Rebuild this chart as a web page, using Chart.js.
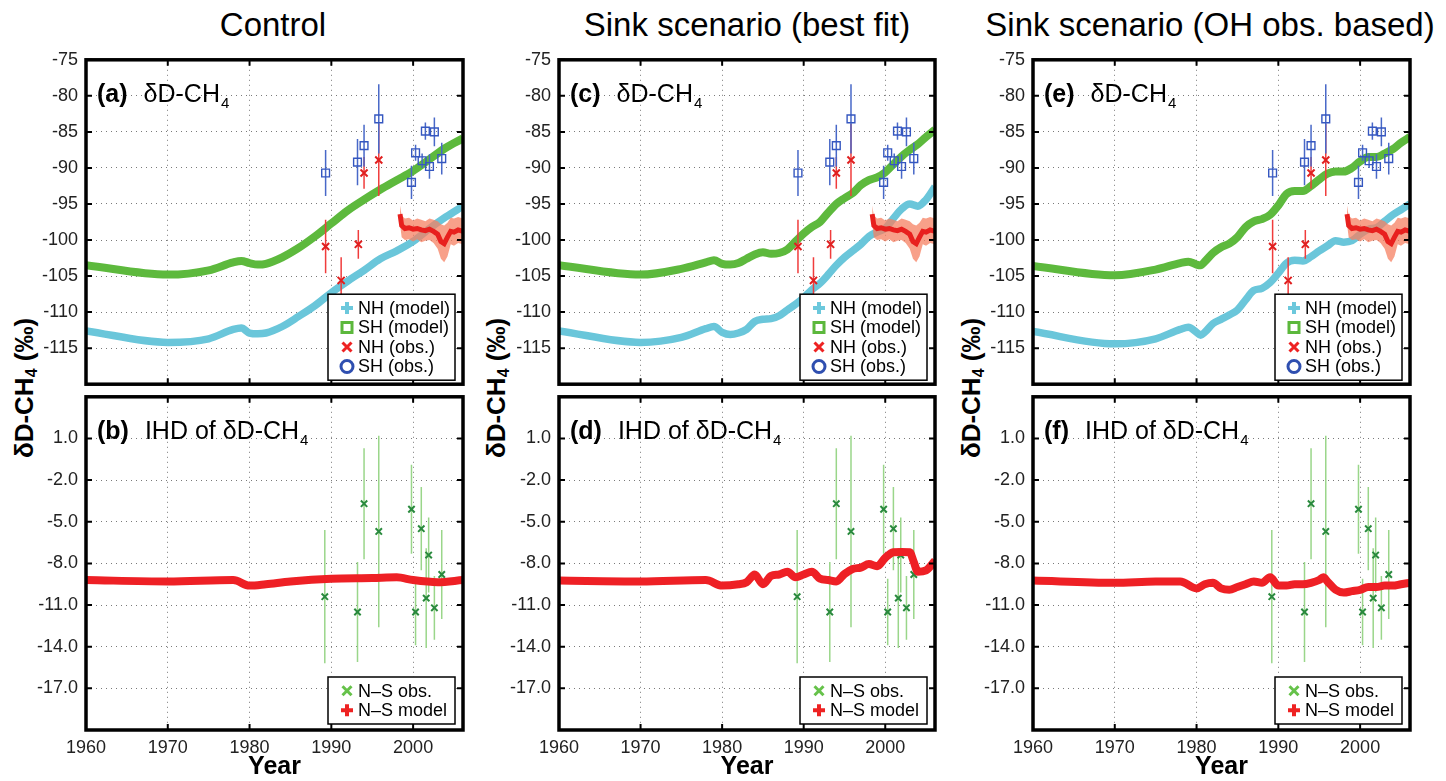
<!DOCTYPE html>
<html>
<head>
<meta charset="utf-8">
<script src="https://cdn.jsdelivr.net/npm/chart.js@4.4.0/dist/chart.umd.min.js"></script>
<style>
  body { margin: 0; background: #fff; width: 1446px; height: 781px; overflow: hidden; position: relative;
         font-family: 'Liberation Sans', Arial, Helvetica, sans-serif; }
  canvas { position: absolute; }
  .title { position: absolute; top: 8px; font-size: 33px; line-height: 33px; color: #000;
           transform: translateX(-50%); white-space: nowrap; }
  .ylab { position: absolute; top: 388px; font-size: 26px; font-weight: bold; white-space: nowrap; color: #000;
          transform: translate(-50%, -50%) rotate(-90deg); }
  .ylab sub { font-size: 16px; vertical-align: -4px; }
</style>
</head>
<body>
<div class="title" style="left:273px">Control</div>
<div class="title" style="left:747px">Sink scenario (best fit)</div>
<div class="title" style="left:1210px">Sink scenario (OH obs. based)</div>
<div class="ylab" style="left:25px">δD-CH<sub>4</sub> (‰)</div>
<div class="ylab" style="left:497px">δD-CH<sub>4</sub> (‰)</div>
<div class="ylab" style="left:972px">δD-CH<sub>4</sub> (‰)</div>

<script>
// axis ticks
const xTicks = [1960, 1970, 1980, 1990, 2000];
const topTicks = [-75, -80, -85, -90, -95, -100, -105, -110, -115];
const botTicks = [1, -2, -5, -8, -11, -14, -17];

// observations (same in every column)
const shObsYears = [1989.3, 1993.2, 1994.0, 1995.8, 1999.8, 2000.3, 2001.1, 2001.5, 2002.0, 2002.6, 2003.5];
const shObsVal   = [-90.7, -89.2, -86.9, -83.2, -92.0, -87.9, -89.0, -84.9, -89.8, -85.0, -88.7];
const shObsErr   = [3.2, 3.2, 2.9, 4.8, 2.3, 1.1, 1.0, 1.2, 1.7, 2.0, 2.2];

const nhObsYears = [1989.3, 1991.2, 1993.3, 1994.0, 1995.8];
const nhObsVal   = [-100.9, -105.6, -100.6, -90.7, -88.9];
const nhObsErr   = [3.7, 3.2, 2.0, 2.2, 5.0];

const nhRecYears = [1998.4, 1998.6, 1999.0, 1999.5, 2000.0, 2000.5, 2001.0, 2001.5, 2002.0, 2002.5, 2003.0, 2003.4, 2003.8, 2004.2, 2004.6, 2005.0, 2005.5, 2006.1];
const nhRecMean  = [-96.4, -98.0, -98.4, -98.3, -98.5, -98.4, -98.6, -98.7, -98.5, -98.8, -99.2, -100.2, -100.5, -99.6, -98.8, -98.9, -98.6, -98.8];
const nhRecHi    = [-95.2, -96.6, -97.0, -96.9, -97.3, -97.0, -97.2, -97.4, -97.0, -97.2, -97.4, -97.8, -98.0, -97.6, -96.9, -97.0, -96.8, -97.0];
const nhRecLo    = [-97.8, -99.6, -100.0, -99.9, -100.2, -99.9, -100.3, -100.1, -100.0, -100.4, -101.2, -102.6, -103.1, -102.3, -100.6, -100.8, -100.4, -100.6];

const nsObsYears = [1989.2, 1993.2, 1994.0, 1995.8, 1999.8, 2000.3, 2001.0, 2001.6, 2001.9, 2002.6, 2003.5];
const nsObsVal   = [-10.4, -11.5, -3.7, -5.7, -4.1, -11.5, -5.5, -10.5, -7.4, -11.2, -8.8];
const nsObsErr   = [4.8, 3.6, 4.0, 6.9, 3.2, 2.4, 3.0, 3.6, 2.7, 2.3, 3.2];

// control run
const ctlYears = [1960, 1970, 1975, 1978, 1979, 1980, 1981, 1982, 1984, 1986, 1988, 1990, 1992, 1994, 1996, 1998, 2000, 2002, 2004, 2006.1];
const ctlSH = [-103.5, -104.8, -104.2, -103.1, -102.9, -103.2, -103.4, -103.3, -102.4, -101.1, -99.5, -97.7, -95.9, -94.4, -93.0, -91.7, -90.4, -88.8, -87.2, -85.9];
const ctlNH = [-112.6, -114.2, -113.7, -112.4, -112.2, -112.9, -113.0, -112.9, -112.0, -110.6, -109.1, -107.3, -105.7, -104.2, -102.6, -101.5, -100.2, -98.4, -96.8, -95.3];
const ctlIhdYears = [1960, 1970, 1978, 1980, 1982, 1985, 1990, 1995, 1998, 2000, 2003, 2006.1];
const ctlIHD = [-9.2, -9.3, -9.2, -9.6, -9.5, -9.3, -9.1, -9.05, -9.0, -9.2, -9.35, -9.2];

// sink scenario, best fit
const bfYears = [1960, 1970, 1975, 1978, 1979, 1980, 1981, 1982, 1983, 1984, 1985, 1986, 1987, 1988, 1989, 1990, 1991, 1992, 1993, 1994, 1995, 1996, 1997, 1998, 1999, 2000, 2001, 2002, 2003, 2004, 2005, 2006.1];
const bfSH = [-103.5, -104.8, -104.0, -103.1, -102.8, -103.3, -103.4, -103.2, -102.6, -102.0, -101.7, -101.9, -101.8, -101.3, -100.2, -99.1, -98.2, -97.5, -96.2, -95.0, -94.2, -93.5, -92.4, -91.7, -91.3, -90.6, -89.5, -88.4, -87.5, -86.7, -85.7, -84.7];
const bfNH = [-112.6, -114.2, -113.5, -112.3, -112.0, -112.8, -113.1, -112.9, -112.4, -111.3, -111.0, -110.9, -110.5, -109.7, -108.9, -108.0, -106.9, -106.0, -104.8, -103.5, -102.4, -101.5, -100.6, -99.5, -98.9, -98.4, -97.0, -95.7, -95.0, -95.3, -94.4, -92.6];
const bfIhdYears = [1960, 1970, 1978, 1980, 1982, 1983, 1984, 1985, 1986, 1987, 1988, 1989, 1990, 1991, 1992, 1993, 1994, 1995, 1996, 1997, 1998, 1999, 2000, 2001, 2002, 2003, 2003.5, 2004, 2005, 2006.1];
const bfIHD = [-9.24, -9.3, -9.2, -9.6, -9.5, -9.36, -8.8, -9.5, -8.9, -8.8, -8.6, -9.0, -8.8, -8.6, -9.1, -9.2, -9.3, -8.76, -8.4, -8.3, -8.05, -8.2, -7.6, -7.2, -7.17, -7.2, -7.9, -8.6, -8.5, -7.8];

// sink scenario, OH obs. based
const ohYears = [1960, 1970, 1975, 1978, 1979, 1980, 1980.5, 1981, 1982, 1983, 1984, 1985, 1986, 1987, 1988, 1989, 1990, 1991, 1992, 1993, 1994, 1995, 1996, 1997, 1998, 1999, 2000, 2001, 2002, 2003, 2004, 2005, 2006.1];
const ohSH = [-103.6, -104.9, -104.1, -103.2, -103.0, -103.4, -103.5, -103.0, -101.8, -101.0, -100.5, -99.6, -98.2, -97.4, -97.1, -96.5, -95.2, -93.6, -93.2, -93.2, -92.5, -91.6, -90.8, -90.5, -90.5, -90.0, -89.1, -88.5, -88.5, -88.0, -87.4, -86.5, -85.7];
const ohNH = [-112.7, -114.4, -113.7, -112.4, -112.1, -112.8, -113.2, -112.8, -111.6, -111.0, -110.4, -109.7, -108.3, -107.0, -106.7, -105.9, -104.6, -103.2, -102.8, -102.9, -102.3, -101.5, -100.8, -100.1, -100.3, -100.1, -99.2, -98.5, -98.3, -97.4, -96.5, -95.8, -95.0];
const ohIhdYears = [1960, 1970, 1975, 1978, 1980, 1981, 1982, 1983, 1984, 1985, 1986, 1987, 1988, 1989, 1990, 1991, 1992, 1993, 1994, 1995, 1995.5, 1996, 1997, 1998, 1999, 2000, 2001, 2002, 2003, 2004, 2005, 2006.1];
const ohIHD = [-9.24, -9.4, -9.3, -9.3, -9.8, -9.5, -9.4, -9.8, -9.9, -9.7, -9.5, -9.3, -9.4, -9.0, -9.6, -9.6, -9.5, -9.5, -9.4, -9.2, -9.0, -9.3, -9.9, -10.1, -10.0, -9.9, -9.7, -9.7, -9.6, -9.6, -9.5, -9.4];

const FONT = "'Liberation Sans', Arial, Helvetica, sans-serif";
Chart.defaults.font.family = FONT;

const pts = (xs, ys) => xs.map((v, i) => ({ x: v, y: ys[i] }));

// vertical error bars, drawn just before the markers of a dataset
const errorBars = {
  id: 'errorBars',
  beforeDatasetDraw(chart, args) {
    const ds = chart.data.datasets[args.index];
    if (!ds.errors) return;
    const { ctx, chartArea: a, scales: { x, y } } = chart;
    ctx.save();
    ctx.beginPath();
    ctx.rect(a.left, a.top, a.right - a.left, a.bottom - a.top);
    ctx.clip();
    ctx.strokeStyle = ds.errorColor;
    ctx.lineWidth = ds.errorWidth || 1.5;
    ds.data.forEach((p, i) => {
      const px = x.getPixelForValue(p.x);
      ctx.beginPath();
      ctx.moveTo(px, y.getPixelForValue(p.y - ds.errors[i]));
      ctx.lineTo(px, y.getPixelForValue(p.y + ds.errors[i]));
      ctx.stroke();
    });
    ctx.restore();
  }
};

function drawMark(ctx, kind, color, cx, cy) {
  ctx.save();
  ctx.strokeStyle = color;
  ctx.beginPath();
  if (kind == 'plus') {
    ctx.lineWidth = 4;
    ctx.moveTo(cx - 6, cy); ctx.lineTo(cx + 6, cy);
    ctx.moveTo(cx, cy - 6); ctx.lineTo(cx, cy + 6);
  } else if (kind == 'square') {
    ctx.lineWidth = 3;
    ctx.rect(cx - 5, cy - 5, 10, 10);
  } else if (kind == 'x') {
    ctx.lineWidth = 3;
    ctx.moveTo(cx - 4.5, cy - 4.5); ctx.lineTo(cx + 4.5, cy + 4.5);
    ctx.moveTo(cx + 4.5, cy - 4.5); ctx.lineTo(cx - 4.5, cy + 4.5);
  } else {
    ctx.lineWidth = 3;
    ctx.arc(cx, cy, 6, 0, Math.PI * 2);
  }
  ctx.stroke();
  ctx.restore();
}

// frame, inward ticks, panel label and legend box
const panelDeco = {
  id: 'panelDeco',
  afterDraw(chart, args, opts) {
    const { ctx, chartArea: a, scales: { x, y } } = chart;
    ctx.save();
    ctx.strokeStyle = '#000';
    ctx.lineWidth = 2;
    ctx.beginPath();
    x.ticks.forEach(t => {
      const px = x.getPixelForValue(t.value);
      ctx.moveTo(px, a.top); ctx.lineTo(px, a.top + 6);
      ctx.moveTo(px, a.bottom); ctx.lineTo(px, a.bottom - 6);
    });
    y.ticks.forEach(t => {
      const py = y.getPixelForValue(t.value);
      ctx.moveTo(a.left, py); ctx.lineTo(a.left + 6, py);
      ctx.moveTo(a.right, py); ctx.lineTo(a.right - 6, py);
    });
    ctx.stroke();
    ctx.lineWidth = 3.5;
    ctx.strokeRect(a.left, a.top, a.right - a.left, a.bottom - a.top);

    // panel label
    ctx.fillStyle = '#000';
    ctx.textBaseline = 'alphabetic';
    ctx.textAlign = 'left';
    let tx = a.left + 11;
    const by = a.top + 42;
    ctx.font = 'bold 25px ' + FONT;
    ctx.fillText(opts.tag, tx, by);
    tx += ctx.measureText(opts.tag).width + 16;
    ctx.font = '25px ' + FONT;
    ctx.fillText(opts.name, tx, by);
    tx += ctx.measureText(opts.name).width;
    ctx.font = '15px ' + FONT;
    ctx.fillText('4', tx + 1, by + 6);

    // legend
    const rowH = 19.5;
    const w = 127, h = opts.legend.length * rowH + 8;
    const lx = a.right - 8 - w, ly = a.bottom - opts.legendGap - h;
    ctx.fillStyle = '#fff';
    ctx.fillRect(lx, ly, w, h);
    ctx.lineWidth = 1.5;
    ctx.strokeStyle = '#000';
    ctx.strokeRect(lx, ly, w, h);
    ctx.font = '18px ' + FONT;
    ctx.textBaseline = 'middle';
    opts.legend.forEach((it, i) => {
      const cy = ly + 4 + rowH * (i + 0.5);
      drawMark(ctx, it.mark, it.color, lx + 19, cy);
      ctx.fillStyle = '#000';
      ctx.fillText(it.text, lx + 30, cy + 1);
    });
    ctx.restore();
  }
};

const topLegend = [
  { text: 'NH (model)', mark: 'plus', color: '#6cc8dc' },
  { text: 'SH (model)', mark: 'square', color: '#5cb83c' },
  { text: 'NH (obs.)', mark: 'x', color: '#ee2222' },
  { text: 'SH (obs.)', mark: 'circle', color: '#2f4fb0' }
];
const botLegend = [
  { text: 'N\u2013S obs.', mark: 'x', color: '#66c24a' },
  { text: 'N\u2013S model', mark: 'plus', color: '#ee2222' }
];

const T = 56, M = 393, B = 730;

function makePanel(L, R, isTop, datasets, deco) {
  const cv = document.createElement('canvas');
  const w = R - L + 95;
  const h = isTop ? (M - T) + 25 : (B - M) + 15 + 52;
  cv.width = w; cv.height = h;
  cv.style.left = (L - 80) + 'px';
  cv.style.top = (isTop ? T - 15 : M - 15) + 'px';
  cv.style.width = w + 'px'; cv.style.height = h + 'px';
  document.body.appendChild(cv);

  const yT = isTop ? topTicks : botTicks;
  new Chart(cv.getContext('2d'), {
    type: 'line',
    data: { datasets: datasets },
    options: {
      responsive: false,
      animation: false,
      devicePixelRatio: 1,
      events: [],
      layout: { padding: { left: 0, top: 15, right: 15, bottom: isTop ? 10 : 0 } },
      plugins: {
        legend: { display: false },
        tooltip: { enabled: false },
        panelDeco: deco
      },
      scales: {
        x: {
          type: 'linear', min: 1960, max: 2006.1,
          afterBuildTicks: s => { s.ticks = xTicks.map(v => ({ value: v })); },
          afterFit: s => { s.height = isTop ? 0 : 52; },
          grid: { color: '#7a7a7a', lineWidth: 1, drawTicks: false },
          border: { display: false, dash: [1, 4] },
          ticks: {
            display: !isTop, color: '#222', padding: 7,
            font: { size: 18 }, maxRotation: 0,
            callback: v => String(v)
          },
          title: {
            display: !isTop, text: 'Year', color: '#000',
            font: { size: 25, weight: 'bold' }, padding: { top: 0, bottom: 0 }
          }
        },
        y: {
          min: isTop ? -120 : -20, max: isTop ? -75 : 4,
          afterBuildTicks: s => { s.ticks = yT.map(v => ({ value: v })); },
          afterFit: s => { s.width = 80; },
          grid: { color: '#7a7a7a', lineWidth: 1, drawTicks: false },
          border: { display: false, dash: [1, 4] },
          ticks: {
            color: '#222', padding: 8, font: { size: 18 },
            callback: v => isTop ? String(v) : v.toFixed(1)
          }
        }
      }
    },
    plugins: [errorBars, panelDeco]
  });
}

function topSets(yrs, nh, sh) {
  return [
    { data: pts(shObsYears, shObsVal), errors: shObsErr, errorColor: '#4868c8', showLine: false,
      pointStyle: 'rect', pointRadius: 5.5, pointBorderColor: '#3557c0',
      pointBackgroundColor: 'rgba(0,0,0,0)', pointBorderWidth: 1.4 },
    { data: pts(nhObsYears, nhObsVal), errors: nhObsErr, errorColor: '#f03c3c', showLine: false,
      pointStyle: 'crossRot', pointRadius: 5, pointBorderColor: '#e02020', pointBorderWidth: 2 },
    { data: pts(nhRecYears, nhRecMean), borderColor: '#e8201e', borderWidth: 5, pointRadius: 0, clip: 0 },
    { data: pts(nhRecYears, nhRecHi), borderColor: 'rgba(0,0,0,0)', borderWidth: 0, pointRadius: 0,
      fill: '+1', backgroundColor: 'rgba(246,128,98,0.75)', clip: 0 },
    { data: pts(nhRecYears, nhRecLo), borderColor: 'rgba(0,0,0,0)', borderWidth: 0, pointRadius: 0, fill: false, clip: 0 },
    { data: pts(yrs, nh), borderColor: '#6ac6da', borderWidth: 7.5, pointRadius: 0,
      cubicInterpolationMode: 'monotone', clip: 0 },
    { data: pts(yrs, sh), borderColor: '#5db93d', borderWidth: 8, pointRadius: 0,
      cubicInterpolationMode: 'monotone', clip: 0 }
  ];
}

function botSets(yrs, ihd) {
  return [
    { data: pts(yrs, ihd), borderColor: '#ee2025', borderWidth: 8, pointRadius: 0,
      cubicInterpolationMode: 'monotone', clip: 0 },
    { data: pts(nsObsYears, nsObsVal), errors: nsObsErr, errorColor: '#9ad68a', showLine: false,
      pointStyle: 'crossRot', pointRadius: 4.5, pointBorderColor: '#2a8a3e', pointBorderWidth: 2 }
  ];
}

const panels = [
  { L: 86, R: 463, top: topSets(ctlYears, ctlNH, ctlSH), bot: botSets(ctlIhdYears, ctlIHD), tags: ['(a)', '(b)'] },
  { L: 559, R: 935, top: topSets(bfYears, bfNH, bfSH), bot: botSets(bfIhdYears, bfIHD), tags: ['(c)', '(d)'] },
  { L: 1033, R: 1410, top: topSets(ohYears, ohNH, ohSH), bot: botSets(ohIhdYears, ohIHD), tags: ['(e)', '(f)'] }
];

panels.forEach(p => {
  makePanel(p.L, p.R, true, p.top, { tag: p.tags[0], name: '\u03b4D-CH', legend: topLegend, legendGap: 4 });
  makePanel(p.L, p.R, false, p.bot, { tag: p.tags[1], name: 'IHD of \u03b4D-CH', legend: botLegend, legendGap: 6 });
});
</script>
</body>
</html>
